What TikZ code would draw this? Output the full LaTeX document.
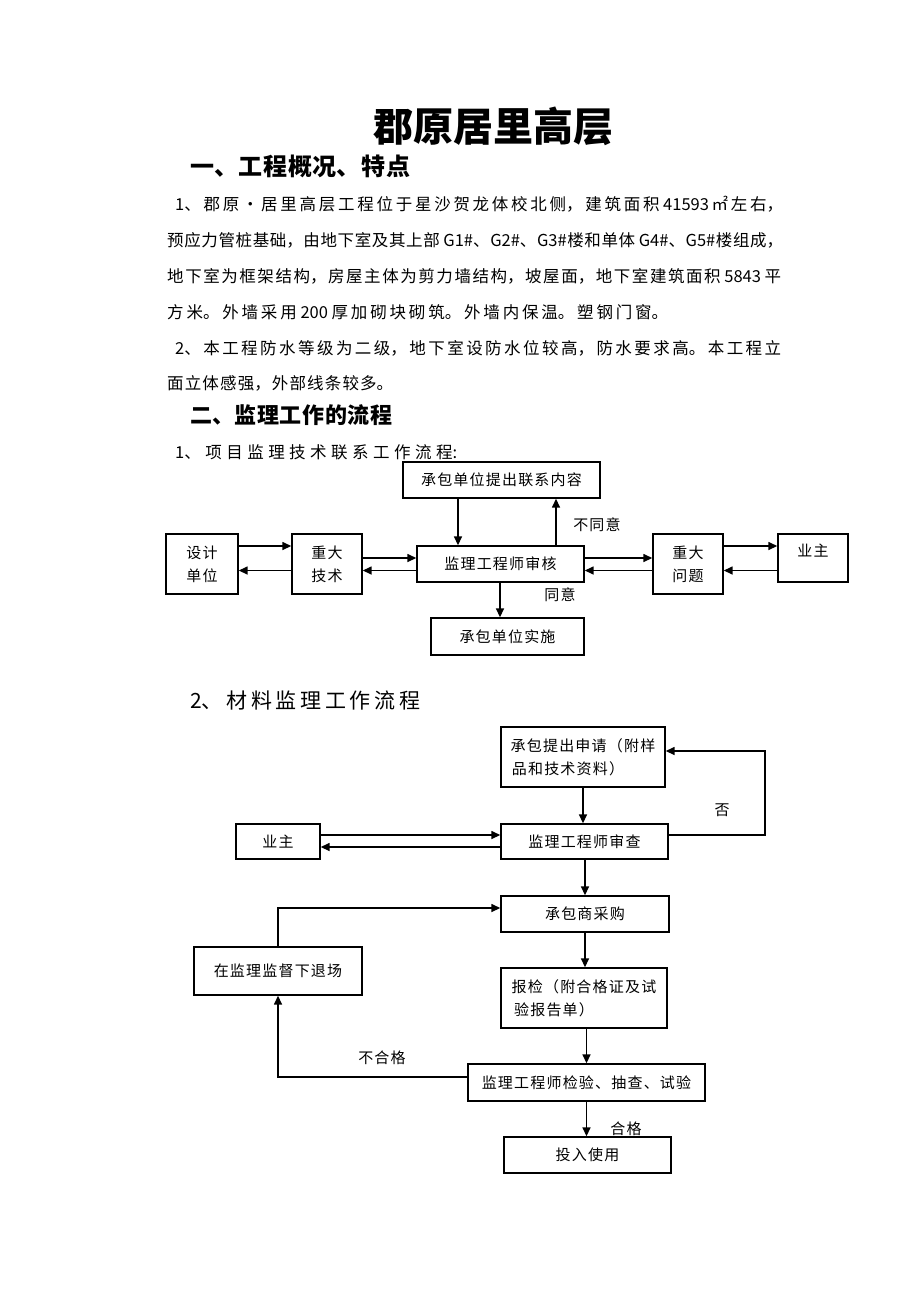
\documentclass[tikz,border=0pt]{standalone}
\usepackage{fontspec}
\setmainfont{Noto Sans CJK SC}
\newfontfamily\boxfont{Noto Sans CJK SC}[LetterSpace=8]
\usetikzlibrary{arrows.meta}
\newcommand\jl[2]{\parbox{#1}{\parindent=0pt\parfillskip=0pt\XeTeXlinebreaklocale "zh"\XeTeXlinebreakskip=0pt plus 1fil minus 0.6pt\relax #2}}
\tikzset{
  bx/.style={draw, line width=1.4pt, inner sep=0pt, align=center, font=\boxfont\fontsize{15}{23}\selectfont},
  arr/.style={line width=1.5pt, -{Triangle[length=9pt,width=8pt]}},
  lab/.style={inner sep=0pt, font=\boxfont\fontsize{15}{18}\selectfont},
  para/.style={anchor=west, inner sep=0pt, font=\fontsize{16.5}{20}\selectfont},
}
\begin{document}
\begin{tikzpicture}[x=1pt,y=-1pt]
\useasboundingbox[fill=white] (0,0) rectangle (920,1302);
% title and text
\node[inner sep=0pt, font=\bfseries\fontsize{40}{44}\selectfont] (title) at (493,126) {郡原居里高层};
\node[anchor=west, inner sep=0pt, font=\bfseries\fontsize{24}{28}\selectfont] (h1) at (190,166) {\jl{220pt}{一、工程概况、特点}};
\node[para] (p1) at (175,204) {\jl{608pt}{1、郡原·居里高层工程位于星沙贺龙体校北侧，建筑面积 41593㎡左右，}};
\node[para] (p2) at (167,240) {\jl{616pt}{预应力管桩基础，由地下室及其上部 G1\#、G2\#、G3\#楼和单体 G4\#、G5\#楼组成，}};
\node[para] (p3) at (167,276) {\jl{614pt}{地下室为框架结构，房屋主体为剪力墙结构，坡屋面，地下室建筑面积 5843 平}};
\node[para] (p4) at (167,312) {\jl{501pt}{方米。外墙采用 200 厚加砌块砌筑。外墙内保温。塑钢门窗。}};
\node[para] (q1) at (175,348) {\jl{606pt}{2、本工程防水等级为二级，地下室设防水位较高，防水要求高。本工程立}};
\node[para] (q2) at (167,383) {\jl{226pt}{面立体感强，外部线条较多。}};
\node[anchor=west, inner sep=0pt, font=\bfseries\fontsize{22}{26}\selectfont] (h2) at (190,415) {\jl{202pt}{二、监理工作的流程}};
\node[para] (s1) at (175,452) {\jl{282pt}{1、项目监理技术联系工作流程:}};
% diagram 1
\node[bx, minimum width=197pt, minimum height=36pt] (cbt) at (501.5,480) {承包单位提出联系内容};
\node[bx, minimum width=72pt, minimum height=60pt] (sj) at (202,564) {设计\\单位};
\node[bx, minimum width=70pt, minimum height=60pt] (zdjs) at (327,564) {重大\\技术};
\node[bx, minimum width=167pt, minimum height=36pt] (jl) at (500.5,564) {监理工程师审核};
\node[bx, minimum width=70pt, minimum height=60pt] (zdwt) at (688,564) {重大\\问题};
\node[bx, minimum width=70pt, minimum height=48pt, text depth=16pt] (yz) at (813,558) {业主};
\node[bx, minimum width=153pt, minimum height=37pt] (ss) at (507.5,636.5) {承包单位实施};
\draw[arr] (sj.east |- 0,546) -- (zdjs.west |- 0,546);
\draw[arr] (zdjs.west |- 0,570.5) -- (sj.east |- 0,570.5);
\draw[arr] (zdjs.east |- 0,558) -- (jl.west |- 0,558);
\draw[arr] (jl.west |- 0,570.5) -- (zdjs.east |- 0,570.5);
\draw[arr] (jl.east |- 0,558) -- (zdwt.west |- 0,558);
\draw[arr] (zdwt.west |- 0,570.5) -- (jl.east |- 0,570.5);
\draw[arr] (zdwt.east |- 0,546) -- (yz.west |- 0,546);
\draw[arr] (yz.west |- 0,570.5) -- (zdwt.east |- 0,570.5);
\draw[arr] (cbt.south -| 458,0) -- (jl.north -| 458,0);
\draw[arr] (jl.north -| 556,0) -- (cbt.south -| 556,0);
\draw[arr] (jl.south -| 500,0) -- (ss.north -| 500,0);
\node[lab] (bty) at (597,525) {不同意};
\node[lab] (ty) at (560,595) {同意};
% heading 2
\node[anchor=west, inner sep=0pt, font=\fontsize{21}{25}\selectfont] (s2) at (190,700) {\jl{230pt}{2、材料监理工作流程}};
% diagram 2
\node[bx, minimum width=164pt, minimum height=60pt] (sq) at (583,757) {承包提出申请（附样\\品和技术资料）\hspace*{2em}};
\node[bx, minimum width=84pt, minimum height=35pt] (yz2) at (278,841.5) {业主};
\node[bx, minimum width=167pt, minimum height=35pt] (sc) at (584.5,841.5) {监理工程师审查};
\node[bx, minimum width=168pt, minimum height=36pt] (cg) at (585,914) {承包商采购};
\node[bx, minimum width=168pt, minimum height=48pt] (tc) at (278,971) {在监理监督下退场};
\node[bx, minimum width=166pt, minimum height=60pt] (bj) at (584,998) {报检（附合格证及试\\验报告单）\hspace*{4em}};
\node[bx, minimum width=237pt, minimum height=37pt] (jy) at (586.5,1082.5) {监理工程师检验、抽查、试验};
\node[bx, minimum width=167pt, minimum height=36pt] (tr) at (587.5,1155) {投入使用};
\draw[arr] (sq.south) -- (sq.south |- sc.north);
\draw[arr] (sc.east |- 0,835) -- (765,835) -- (765,751) -- (sq.east |- 0,751);
\draw[arr] (yz2.east |- 0,835) -- (sc.west |- 0,835);
\draw[arr] (sc.west |- 0,847) -- (yz2.east |- 0,847);
\draw[arr] (sc.south -| cg.north) -- (cg.north);
\draw[arr] (tc.north) |- (cg.west |- 0,908);
\draw[arr] (cg.south) -- (cg.south |- bj.north);
\draw[arr] (bj.south -| jy.north) -- (jy.north);
\draw[arr] (jy.west |- 0,1077) -| (tc.south);
\draw[arr] (jy.south) -- (jy.south |- tr.north);
\node[lab] (fou) at (722,810) {否};
\node[lab] (bhg) at (382,1058) {不合格};
\node[lab] (hg) at (626,1129) {合格};
\end{tikzpicture}
\end{document}
